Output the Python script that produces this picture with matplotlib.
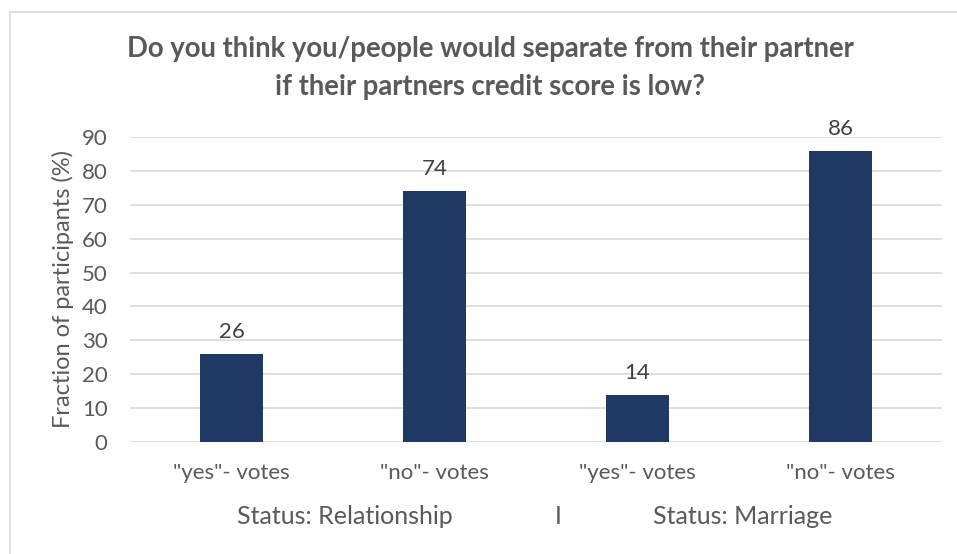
import matplotlib
matplotlib.use('Agg')
import matplotlib.pyplot as plt
from matplotlib.lines import Line2D

# survey answers (% of participants)
categories = ['"yes"- votes', '"no"- votes', '"yes"- votes', '"no"- votes']
fractions = [26, 74, 14, 86]
groups = ['Status: Relationship', 'I', 'Status: Marriage']
title = 'Do you think you/people would separate from their partner\nif their partners credit score is low?'

bar_color = '#203864'
text_color = '#595959'
grid_color = '#d9d9d9'

plt.rcParams['font.family'] = ['Lato', 'DejaVu Sans']

fig = plt.figure(figsize=(9.57, 5.54), dpi=100)
ax = fig.add_axes([0.1358, 0.2022, 0.8484, 0.5505])

x = list(range(len(categories)))
ax.bar(x, fractions, width=0.31, color=bar_color, zorder=3)
for xi, v in zip(x, fractions):
    ax.text(xi, v + 3.5, str(v), ha='center', va='bottom', fontsize=16, color='#404040')

ax.set_xlim(-0.5, len(categories) - 0.5)
ax.set_ylim(0, 90)
ax.set_yticks(range(0, 91, 10))
ax.yaxis.grid(True, color=grid_color, linewidth=1.2, zorder=0)
ax.set_xticks(x)
ax.set_xticklabels(categories)
ax.tick_params(axis='both', length=0, labelsize=16, labelcolor=text_color)
ax.tick_params(axis='x', pad=15)
ax.tick_params(axis='y', pad=16)
for s in ax.spines.values():
    s.set_visible(False)

ax.set_ylabel('Fraction of participants (%)', fontsize=17, color=text_color, labelpad=6)

fig.text(0.512, 0.935, title, ha='center', va='top', fontsize=19.8, fontweight='bold',
         color=text_color, linespacing=1.55)

# group labels under the categories
fig.text(0.36, 0.055, groups[0], ha='center', fontsize=18, color=text_color)
fig.text(0.583, 0.055, groups[1], ha='center', fontsize=18, color=text_color)
fig.text(0.776, 0.055, groups[2], ha='center', fontsize=18, color=text_color)

# chart frame (left and top edges)
fig.add_artist(Line2D([0.0105, 0.0105], [0, 0.978], transform=fig.transFigure, color=grid_color, linewidth=1.2))
fig.add_artist(Line2D([0.0105, 1], [0.978, 0.978], transform=fig.transFigure, color=grid_color, linewidth=1.2))

fig.savefig('out.png', dpi=100)
